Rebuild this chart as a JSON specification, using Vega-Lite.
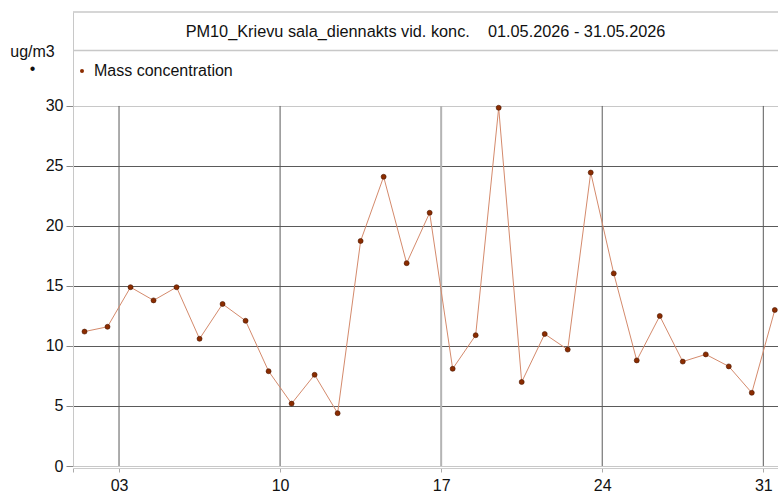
{
  "$schema": "https://vega.github.io/schema/vega-lite/v6.json",
  "autosize": "none",
  "width": 705,
  "height": 454,
  "padding": {"left": 73, "top": 12, "right": 0, "bottom": 27},
  "background": "white",
  "config": {
    "view": {"stroke": null},
    "font": "Liberation Sans",
    "axis": {"labelFont": "Liberation Sans", "titleFont": "Liberation Sans"}
  },
  "datasets": {
    "pm": [
      {"date": "2026-05-01T12:00:00Z", "value": 11.2, "series": "Mass concentration"},
      {"date": "2026-05-02T12:00:00Z", "value": 11.6, "series": "Mass concentration"},
      {"date": "2026-05-03T12:00:00Z", "value": 14.9, "series": "Mass concentration"},
      {"date": "2026-05-04T12:00:00Z", "value": 13.8, "series": "Mass concentration"},
      {"date": "2026-05-05T12:00:00Z", "value": 14.9, "series": "Mass concentration"},
      {"date": "2026-05-06T12:00:00Z", "value": 10.6, "series": "Mass concentration"},
      {"date": "2026-05-07T12:00:00Z", "value": 13.5, "series": "Mass concentration"},
      {"date": "2026-05-08T12:00:00Z", "value": 12.1, "series": "Mass concentration"},
      {"date": "2026-05-09T12:00:00Z", "value": 7.9, "series": "Mass concentration"},
      {"date": "2026-05-10T12:00:00Z", "value": 5.2, "series": "Mass concentration"},
      {"date": "2026-05-11T12:00:00Z", "value": 7.6, "series": "Mass concentration"},
      {"date": "2026-05-12T12:00:00Z", "value": 4.4, "series": "Mass concentration"},
      {"date": "2026-05-13T12:00:00Z", "value": 18.75, "series": "Mass concentration"},
      {"date": "2026-05-14T12:00:00Z", "value": 24.1, "series": "Mass concentration"},
      {"date": "2026-05-15T12:00:00Z", "value": 16.9, "series": "Mass concentration"},
      {"date": "2026-05-16T12:00:00Z", "value": 21.1, "series": "Mass concentration"},
      {"date": "2026-05-17T12:00:00Z", "value": 8.1, "series": "Mass concentration"},
      {"date": "2026-05-18T12:00:00Z", "value": 10.9, "series": "Mass concentration"},
      {"date": "2026-05-19T12:00:00Z", "value": 29.85, "series": "Mass concentration"},
      {"date": "2026-05-20T12:00:00Z", "value": 7.0, "series": "Mass concentration"},
      {"date": "2026-05-21T12:00:00Z", "value": 11.0, "series": "Mass concentration"},
      {"date": "2026-05-22T12:00:00Z", "value": 9.7, "series": "Mass concentration"},
      {"date": "2026-05-23T12:00:00Z", "value": 24.45, "series": "Mass concentration"},
      {"date": "2026-05-24T12:00:00Z", "value": 16.05, "series": "Mass concentration"},
      {"date": "2026-05-25T12:00:00Z", "value": 8.8, "series": "Mass concentration"},
      {"date": "2026-05-26T12:00:00Z", "value": 12.5, "series": "Mass concentration"},
      {"date": "2026-05-27T12:00:00Z", "value": 8.7, "series": "Mass concentration"},
      {"date": "2026-05-28T12:00:00Z", "value": 9.3, "series": "Mass concentration"},
      {"date": "2026-05-29T12:00:00Z", "value": 8.3, "series": "Mass concentration"},
      {"date": "2026-05-30T12:00:00Z", "value": 6.1, "series": "Mass concentration"},
      {"date": "2026-05-31T12:00:00Z", "value": 13.0, "series": "Mass concentration"}
    ],
    "gridDark": [
      {"g": "2026-05-03T00:00:00Z"},
      {"g": "2026-05-10T00:00:00Z"},
      {"g": "2026-05-24T00:00:00Z"},
      {"g": "2026-05-31T00:00:00Z"}
    ],
    "gridLight": [
      {"g": "2026-05-17T00:00:00Z"}
    ],
    "header": [
      {"title": "PM10_Krievu sala_diennakts vid. konc.\u00a0\u00a0\u00a0\u00a001.05.2026 - 31.05.2026"}
    ]
  },
  "encoding": {
    "x": {
      "field": "date",
      "type": "temporal",
      "scale": {
        "type": "utc",
        "domain": [
          {"year": 2026, "month": 5, "date": 1, "utc": true},
          {"year": 2026, "month": 5, "date": 31, "hours": 15, "minutes": 20, "utc": true}
        ]
      },
      "axis": {
        "title": null,
        "grid": false,
        "offset": 2,
        "values": [
          {"year": 2026, "month": 5, "date": 1, "utc": true},
          {"year": 2026, "month": 5, "date": 3, "utc": true},
          {"year": 2026, "month": 5, "date": 10, "utc": true},
          {"year": 2026, "month": 5, "date": 17, "utc": true},
          {"year": 2026, "month": 5, "date": 24, "utc": true},
          {"year": 2026, "month": 5, "date": 31, "utc": true}
        ],
        "labelExpr": "utcFormat(datum.value, '%d') == '01' ? '' : utcFormat(datum.value, '%d')",
        "labelFontSize": 16,
        "labelColor": "#111",
        "labelPadding": 5,
        "labelFlush": false,
        "labelOverlap": false,
        "domainColor": "#cccccc",
        "tickColor": "#aaaaaa",
        "tickSize": 4
      }
    }
  },
  "layer": [
    {
      "data": {"name": "gridDark"},
      "mark": {"type": "rule", "strokeWidth": 1, "color": "#5a5a5a"},
      "encoding": {
        "x": {"field": "g", "type": "temporal"},
        "y": {"datum": 0},
        "y2": {"datum": 30}
      }
    },
    {
      "data": {"name": "gridLight"},
      "mark": {"type": "rule", "strokeWidth": 2, "color": "#b4b4b4"},
      "encoding": {
        "x": {"field": "g", "type": "temporal"},
        "y": {"datum": 0},
        "y2": {"datum": 30}
      }
    },
    {
      "data": {"name": "header"},
      "mark": {"type": "rule", "color": "#c8c8c8", "strokeWidth": 1.5},
      "encoding": {"x": null, "y": {"datum": 37.83}}
    },
    {
      "data": {"name": "header"},
      "mark": {"type": "rule", "color": "#c8c8c8", "strokeWidth": 1.5},
      "encoding": {"x": null, "y": {"datum": 34.62}}
    },
    {
      "data": {"name": "header"},
      "mark": {"type": "text", "fontSize": 16.3, "font": "Liberation Sans", "color": "#111", "baseline": "middle", "align": "center"},
      "encoding": {
        "x": null,
        "y": {"datum": 36.2},
        "text": {"field": "title"}
      }
    },
    {
      "data": {"name": "pm"},
      "mark": {"type": "line", "color": "#d48a6c", "strokeWidth": 1},
      "encoding": {
        "y": {
          "field": "value",
          "type": "quantitative",
          "scale": {"domain": [0, 37.83], "nice": false, "zero": true},
          "axis": {
            "values": [0, 5, 10, 15, 20, 25, 30],
            "grid": true,
            "gridColor": {"condition": {"test": "datum.value == 30 || datum.value == 0", "value": "#c8c8c8"}, "value": "#5a5a5a"},
            "gridWidth": 1,
            "domainColor": "#c8c8c8",
            "tickColor": "#888888",
            "tickSize": 7,
            "labelFontSize": 16,
            "labelColor": "#111",
            "labelPadding": 3,
            "labelFlush": false,
            "labelOverlap": false,
            "title": ["ug/m3", "\u2022"],
            "titleAngle": 0,
            "titleFontSize": 16,
            "titleFontWeight": "normal",
            "titleColor": "#111",
            "titleAlign": "center",
            "titleBaseline": "alphabetic",
            "titleLineHeight": 17,
            "titleX": -41,
            "titleY": 44
          }
        }
      }
    },
    {
      "data": {"name": "pm"},
      "mark": {"type": "point", "filled": true, "size": 25, "stroke": "#4a1500", "strokeWidth": 0.6, "opacity": 1},
      "encoding": {
        "y": {"field": "value", "type": "quantitative"},
        "color": {
          "field": "series",
          "type": "nominal",
          "scale": {"range": ["#8b2c00"]},
          "legend": {
            "title": null,
            "orient": "none",
            "legendX": 1,
            "legendY": 51,
            "padding": 0,
            "symbolType": "circle",
            "symbolSize": 16,
            "symbolStrokeWidth": 0,
            "symbolFillColor": "#8b2c00",
            "labelFontSize": 16,
            "labelFont": "Liberation Sans",
            "labelColor": "#111",
            "labelOffset": 4
          }
        }
      }
    }
  ]
}
